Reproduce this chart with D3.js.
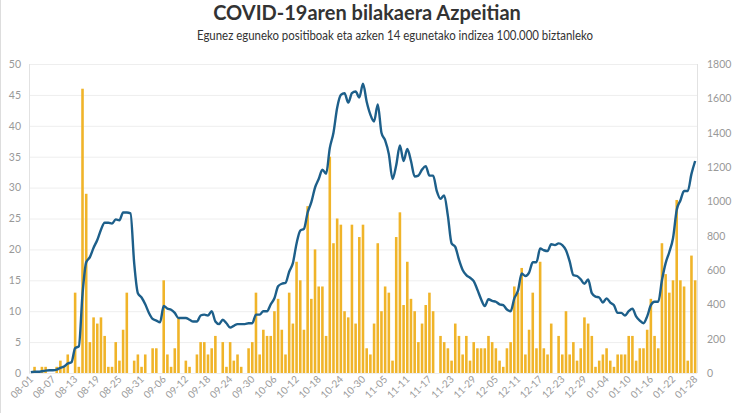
<!DOCTYPE html>
<html>
<head>
<meta charset="utf-8">
<script src="https://cdn.jsdelivr.net/npm/d3@7"></script>
<style>
    body { margin: 0; background: #fff; }
    svg { font-family: Lato, "Open Sans", sans-serif; }
</style>
</head>
<body>
<svg id="chart" width="735" height="413"></svg>
<script>
// Daily positive cases, 08-01 .. 01-28
const cases = [
    0, 1, 0, 1, 1, 0, 0, 1, 2, 1, 3, 0, 13, 1, 46, 29, 5, 9, 8, 9,
    6, 1, 1, 5, 2, 7, 13, 0, 2, 3, 1, 3, 0, 4, 4, 0, 15, 3, 1, 4,
    9, 0, 2, 1, 0, 3, 5, 5, 3, 4, 6, 0, 5, 1, 5, 2, 3, 1, 0, 4,
    5, 13, 3, 7, 6, 6, 10, 12, 7, 3, 13, 8, 18, 15, 7, 27, 12, 20, 14, 14,
    6, 35, 21, 25, 24, 10, 9, 24, 8, 22, 24, 4, 3, 8, 21, 10, 14, 13, 2, 22,
    26, 11, 18, 12, 10, 5, 8, 11, 13, 10, 0, 6, 5, 4, 2, 8, 6, 3, 6, 2,
    5, 4, 4, 4, 6, 5, 4, 2, 1, 4, 5, 14, 13, 17, 3, 7, 13, 4, 18, 4,
    3, 8, 0, 6, 3, 10, 3, 5, 2, 4, 9, 8, 6, 1, 2, 3, 4, 2, 1, 3,
    3, 3, 6, 6, 2, 4, 4, 7, 12, 6, 4, 21, 16, 13, 15, 28, 15, 14, 2, 19,
    15
];

// 14-day incidence per 100.000 inhabitants (right axis)
const incidence = [
    5, 7, 7, 10, 14, 16, 16, 20, 30, 38, 55, 62, 145, 155, 460, 645, 675, 730, 775, 835,
    875, 875, 870, 895, 890, 935, 935, 930, 640, 465, 440, 400, 350, 315, 305, 295, 390, 375, 368, 350,
    320, 320, 320, 310, 300, 300, 335, 340, 335, 360, 300, 285, 310, 290, 265, 275, 285, 285, 285, 290,
    290, 340, 340, 360, 360, 400, 435, 505, 520, 525, 590, 640, 755, 830, 840, 935, 995, 1080, 1130, 1185,
    1160, 1310, 1400, 1545, 1620, 1630, 1575, 1630, 1640, 1605, 1685, 1580, 1505, 1465, 1565, 1400, 1355, 1275, 1130, 1210,
    1325, 1235, 1305, 1235, 1145, 1150, 1185, 1205, 1150, 1150, 1060, 1015, 1035, 915, 755, 735, 660, 600, 570, 555,
    535, 485, 430, 390, 430, 420, 415, 400, 395, 370, 360, 435, 480, 580, 565, 585, 645, 645, 725, 715,
    710, 750, 745, 755, 745, 715, 650, 570, 565, 545, 520, 545, 465, 445, 440, 410, 435, 410, 395, 350,
    350, 335, 360, 375, 330, 305, 290, 330, 395, 415, 415, 540, 640, 705, 785, 950, 1005, 1060, 1060, 1160,
    1235
];

const leftTicks = [0, 5, 10, 15, 20, 25, 30, 35, 40, 45, 50];
const rightTicks = [0, 200, 400, 600, 800, 1000, 1200, 1400, 1600, 1800];
const dayTicks = [
    "08-01", "08-07", "08-13", "08-19", "08-25", "08-31", "09-06", "09-12", "09-18", "09-24",
    "09-30", "10-06", "10-12", "10-18", "10-24", "10-30", "11-05", "11-11", "11-17", "11-23",
    "11-29", "12-05", "12-11", "12-17", "12-23", "12-29", "01-04", "01-10", "01-16", "01-22", "01-28"
];

const fmt = d3.timeFormat("%m-%d");
const days = d3.timeDay.range(new Date(2020, 7, 1), new Date(2021, 0, 29)).map(fmt);

const plotLeft = 29, plotRight = 697, plotTop = 64, plotBottom = 373;

let svg = d3.select("#chart");

// Frame line on the left edge
svg.append("line")
    .attr("x1", 0.5).attr("x2", 0.5)
    .attr("y1", 0).attr("y2", 413)
    .attr("stroke", "#ddd");

svg.append("text")
    .text("COVID-19aren bilakaera Azpeitian")
    .attr("x", 367).attr("y", 20)
    .attr("text-anchor", "middle")
    .style("font-size", "20px")
    .style("font-weight", "bold")
    .style("fill", "#333");

svg.append("text")
    .text("Egunez eguneko positiboak eta azken 14 egunetako indizea 100.000 biztanleko")
    .attr("x", 197).attr("y", 40)
    .attr("textLength", 396)
    .attr("lengthAdjust", "spacingAndGlyphs")
    .style("font-size", "12.5px")
    .style("fill", "#333");

let x = d3.scaleBand().domain(days).range([plotLeft, plotRight]).paddingInner(0.3).paddingOuter(0.15);
let yLeft = d3.scaleLinear().domain([0, 50]).range([plotBottom, plotTop]);
let yRight = d3.scaleLinear().domain([0, 1800]).range([plotBottom, plotTop]);

// Gridlines
svg.append("g")
    .selectAll("line")
    .data(leftTicks)
    .join("line")
    .attr("x1", plotLeft).attr("x2", plotRight)
    .attr("y1", d => yLeft(d) + 0.5).attr("y2", d => yLeft(d) + 0.5)
    .attr("stroke", "#eeeeee");

// Axis lines
svg.append("line")
    .attr("x1", plotLeft + 0.5).attr("x2", plotLeft + 0.5)
    .attr("y1", plotTop).attr("y2", plotBottom)
    .attr("stroke", "#e2e2e2");
svg.append("line")
    .attr("x1", plotRight + 0.5).attr("x2", plotRight + 0.5)
    .attr("y1", plotTop).attr("y2", plotBottom)
    .attr("stroke", "#e2e2e2");

// Left axis
let leftAxis = svg.append("g")
    .attr("transform", `translate(${plotLeft},0)`)
    .call(d3.axisLeft(yLeft).tickValues(leftTicks).tickSize(0).tickPadding(8));
leftAxis.select(".domain").remove();
leftAxis.selectAll("text").style("font-size", "10.5px").style("fill", "#999").style("font-family", "Lato, sans-serif");

// Right axis
let rightAxis = svg.append("g")
    .attr("transform", `translate(${plotRight},0)`)
    .call(d3.axisRight(yRight).tickValues(rightTicks).tickFormat(d3.format("d")).tickSize(0).tickPadding(10));
rightAxis.select(".domain").remove();
rightAxis.selectAll("text").style("font-size", "10.5px").style("fill", "#999").style("font-family", "Lato, sans-serif");

// Bars
svg.append("g")
    .selectAll("rect")
    .data(cases)
    .join("rect")
    .attr("x", (d, i) => x(days[i]))
    .attr("width", x.bandwidth())
    .attr("y", d => yLeft(d))
    .attr("height", d => yLeft(0) - yLeft(d))
    .attr("fill", "#f0b429");

// Incidence line
let line = d3.line()
    .x((d, i) => x(days[i]) + x.bandwidth() / 2)
    .y(d => yRight(d))
    .curve(d3.curveMonotoneX);

svg.append("path")
    .datum(incidence)
    .attr("d", line)
    .attr("fill", "none")
    .attr("stroke", "#1d5f8a")
    .attr("stroke-width", 2.4)
    .attr("stroke-linejoin", "round");

// Rotated day labels
svg.append("g")
    .selectAll("text")
    .data(dayTicks)
    .join("text")
    .text(d => d)
    .attr("transform", d => `translate(${x(d) + x.bandwidth() / 2 + 3},${plotBottom + 7}) rotate(-45)`)
    .attr("text-anchor", "end")
    .style("font-size", "10px")
    .style("fill", "#999");
</script>
</body>
</html>
